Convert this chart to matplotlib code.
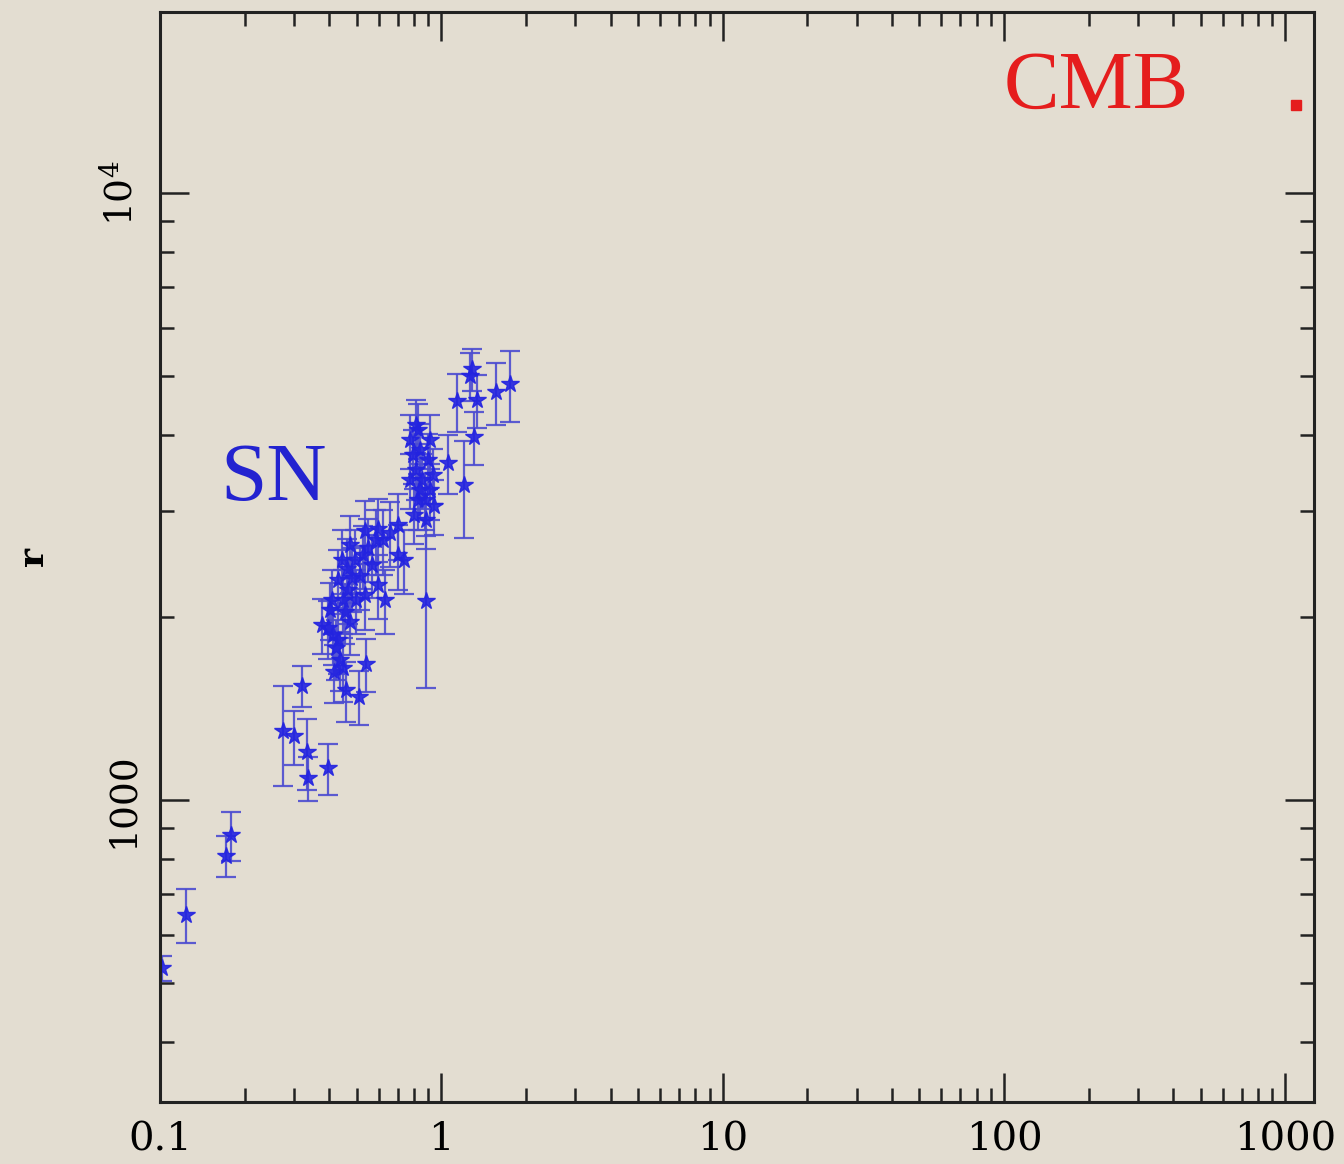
import numpy as np
import matplotlib.pyplot as plt
from matplotlib.ticker import FixedLocator, LogLocator, NullFormatter

plt.rcParams['font.family'] = ['DejaVu Serif']
plt.rcParams['mathtext.fontset'] = 'dejavuserif'

# Datos SN (redshift, distancia, error)
sn_z = [0.102, 0.124, 0.172, 0.179, 0.274, 0.300, 0.320, 0.334, 0.337, 0.396,
        0.510, 0.541, 0.884,
        0.378, 0.396, 0.412, 0.430, 0.423, 0.438, 0.449, 0.417, 0.458, 0.474,
        0.455, 0.403,
        0.448, 0.465, 0.483, 0.462, 0.495, 0.515, 0.525, 0.547, 0.568, 0.598,
        0.621, 0.659, 0.700, 0.738, 0.702, 0.498, 0.536, 0.631, 0.585,
        0.444, 0.430, 0.474, 0.409, 0.536, 0.598,
        0.776, 0.792, 0.810, 0.828, 0.842, 0.857, 0.877, 0.900, 0.914, 0.936,
        0.828, 0.799, 0.884, 0.945, 0.842, 0.776, 0.914, 0.810,
        1.06, 1.20, 1.14, 1.29, 1.27, 1.34, 1.31, 1.56, 1.76]
sn_r = [528, 647, 809, 875, 1299, 1274, 1541, 1200, 1087, 1129,
        1479, 1675, 2128,
        1942, 1920, 1870, 1834, 1780, 1700, 1650, 1624, 1517, 1966,
        2040, 2055,
        2135, 2218, 2320, 2400, 2485, 2340, 2530, 2600, 2440, 2260,
        2681, 2760, 2840, 2485, 2530, 2135, 2175, 2135, 2681,
        2485, 2303, 2630, 2135, 2780, 2800,
        3918, 3700, 3495, 4070, 3780, 3366, 3120, 3631, 3918, 3430,
        3120, 2950, 2892, 3050, 3240, 3366, 3240, 4150,
        3590, 3302, 4540, 5130, 5000, 4560, 3964, 4700, 4841]
sn_err = [25, 66, 62, 80, 245, 130, 120, 160, 90, 110,
          150, 170, 600,
          200, 210, 200, 220, 200, 190, 200, 180, 170, 230,
          230, 220,
          260, 270, 280, 290, 300, 280, 300, 310, 290, 270,
          330, 340, 350, 300, 310, 260, 270, 260, 330,
          300, 280, 310, 260, 330, 330,
          400, 380, 370, 420, 390, 350, 330, 380, 400, 360,
          330, 310, 300, 320, 340, 350, 340, 420,
          400, 600, 500, 400, 450, 450, 400, 550, 650]

cmb_z = [1089]
cmb_r = [14000]

bg = '#e3ddd1'
fig = plt.figure(figsize=(13.44, 11.64), dpi=100, facecolor=bg)
ax = fig.add_axes([0.119, 0.0533, 0.859, 0.9364])
ax.set_facecolor(bg)

ax.errorbar(sn_z, sn_r, yerr=sn_err, fmt='*', color='#2323e0', markersize=13,
            ecolor='#4c4cd0', elinewidth=1.6, capsize=7, capthick=1.6, alpha=0.9)
ax.plot(cmb_z, cmb_r, 's', color='#e51d1d', markersize=7.5)

ax.set_xscale('log')
ax.set_yscale('log')
ax.set_xlim(0.1, 1270)
ax.set_ylim(318, 19900)

ax.xaxis.set_major_locator(FixedLocator([0.1, 1, 10, 100, 1000]))
ax.set_xticklabels(['0.1', '1', '10', '100', '1000'])
ax.xaxis.set_minor_locator(LogLocator(base=10, subs=np.arange(2, 10)))
ax.xaxis.set_minor_formatter(NullFormatter())
ax.yaxis.set_major_locator(FixedLocator([1000, 10000]))
ax.set_yticklabels(['1000', r'$10^4$'])
ax.yaxis.set_minor_locator(LogLocator(base=10, subs=np.arange(2, 10)))
ax.yaxis.set_minor_formatter(NullFormatter())

ax.tick_params(which='both', direction='in', top=True, right=True, color='#222222')
ax.tick_params(which='major', length=21, width=1.8, pad=14)
ax.tick_params(axis='x', labelsize=29)
ax.tick_params(axis='y', labelsize=27, labelrotation=90)
ax.tick_params(which='minor', length=10, width=1.8)
for lab in ax.get_yticklabels():
    lab.set_va('center')
for s in ax.spines.values():
    s.set_linewidth(2.2)
    s.set_color('#222222')

ax.set_ylabel('r', fontsize=26, fontweight='bold', labelpad=38)

ax.text(0.164, 3120, 'SN', color='#2323d0', fontsize=60, family='Liberation Serif')
ax.text(100, 13850, 'CMB', color='#e51d1d', fontsize=60, family='Liberation Serif')

plt.savefig('out.png', dpi=100, facecolor=bg)
